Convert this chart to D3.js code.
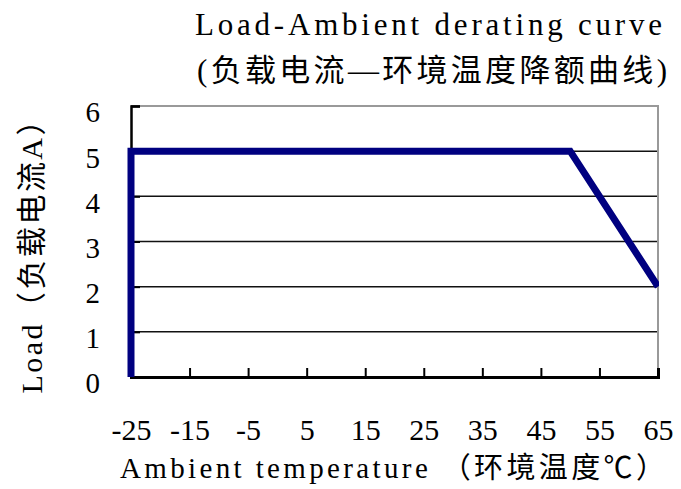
<!DOCTYPE html>
<html>
<head>
<meta charset="utf-8">
<script src="https://cdn.jsdelivr.net/npm/d3@7"></script>
<style>
  body { margin: 0; background: #fff; }
  text { font-family: "Liberation Serif", "Noto Sans CJK SC", serif; fill: #000; }
</style>
</head>
<body>
<div id="chart"></div>
<script>
// Derating curve data (temperature in C, load in A)
const temps = [-25, -25, 50, 65];
const loads = [0, 5, 5, 2];
const xTicks = [-25, -15, -5, 5, 15, 25, 35, 45, 55, 65];
const yTicks = [0, 1, 2, 3, 4, 5, 6];
const titleLines = ["Load-Ambient derating curve", "(负载电流—环境温度降额曲线)"];
const xTitle = "Ambient temperature （环境温度℃）";
const yTitle = "Load（负载电流A）";

const width = 681, height = 489;
const margin = {left: 131, right: 23, top: 106, bottom: 112};

const svg = d3.select("#chart").append("svg")
    .attr("width", width)
    .attr("height", height);

const x = d3.scaleLinear()
    .domain([-25, 65])
    .range([margin.left, width - margin.right]);

const y = d3.scaleLinear()
    .domain([0, 6])
    .range([height - margin.bottom, margin.top]);

svg.append("clipPath")
    .attr("id", "plot-clip")
    .append("rect")
    .attr("x", x(-25) - 5).attr("y", y(6))
    .attr("width", x(65) - x(-25) + 6)
    .attr("height", y(0) - y(6));

// Horizontal gridlines
svg.append("g")
    .selectAll("line")
    .data(yTicks.filter(d => d > 0 && d < 6))
    .join("line")
    .attr("x1", x(-25)).attr("x2", x(65))
    .attr("y1", d => y(d)).attr("y2", d => y(d))
    .attr("stroke", "#111")
    .attr("stroke-width", 1.5);

// Gray top and right border
svg.append("path")
    .attr("d", `M${x(-25)},${y(6)}H${x(65)}V${y(0)}`)
    .attr("fill", "none")
    .attr("stroke", "#999")
    .attr("stroke-width", 2);

// Y axis ticks (inward) + labels
const yAxis = svg.append("g")
    .attr("transform", `translate(${x(-25)},0)`)
    .call(d3.axisLeft(y).tickValues(yTicks).tickSize(-9).tickPadding(31).tickFormat(d3.format("d")));
yAxis.select(".domain").attr("stroke", "#000").attr("stroke-width", 2.5);
yAxis.selectAll(".tick line").attr("stroke", "#000").attr("stroke-width", 2);
yAxis.selectAll(".tick text")
    .attr("font-size", 29)
    .attr("font-family", "Liberation Serif")
    .attr("dy", "0.55em");

// X axis ticks (inward) + labels
const xAxis = svg.append("g")
    .attr("transform", `translate(0,${y(0)})`)
    .call(d3.axisBottom(x).tickValues(xTicks).tickSize(-9).tickPadding(42).tickFormat(d => d < 0 ? "-" + Math.abs(d) : d));
xAxis.select(".domain").attr("stroke", "#000").attr("stroke-width", 3);
xAxis.selectAll(".tick line").attr("stroke", "#000").attr("stroke-width", 2);
xAxis.selectAll(".tick text")
    .attr("font-size", 30)
    .attr("font-family", "Liberation Serif")
    .attr("dy", "0.7em");

// Derating line
const line = d3.line()
    .x((d, i) => x(temps[i]))
    .y(d => y(d));
svg.append("path")
    .datum(loads)
    .attr("d", line)
    .attr("clip-path", "url(#plot-clip)")
    .attr("fill", "none")
    .attr("stroke", "#000080")
    .attr("stroke-width", 7)
    .attr("stroke-linejoin", "miter");

// Title
svg.append("text")
    .attr("x", 195).attr("y", 35)
    .attr("font-size", 31)
    .attr("textLength", 467)
    .attr("lengthAdjust", "spacing")
    .text(titleLines[0]);
svg.append("text")
    .attr("x", 197).attr("y", 81)
    .attr("font-size", 31)
    .attr("textLength", 470)
    .attr("lengthAdjust", "spacing")
    .text(titleLines[1]);

// X axis title
svg.append("text")
    .attr("x", 120).attr("y", 478)
    .attr("font-size", 29)
    .attr("textLength", 545)
    .attr("lengthAdjust", "spacing")
    .text(xTitle);

// Y axis title
svg.append("text")
    .attr("transform", `translate(42,${(y(0) + y(6)) / 2 + 8}) rotate(-90)`)
    .attr("text-anchor", "middle")
    .attr("font-size", 30)
    .attr("textLength", 288)
    .attr("lengthAdjust", "spacing")
    .text(yTitle);
</script>
</body>
</html>
